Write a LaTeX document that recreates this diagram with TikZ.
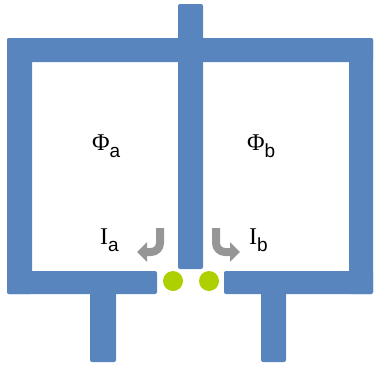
\documentclass[tikz,border=0pt]{standalone}
\usepackage{fontspec}
\usetikzlibrary{arrows.meta}
\newfontfamily\serifrm{Liberation Serif}
\newfontfamily\sansrm{Liberation Sans}
\definecolor{wallblue}{RGB}{88,133,190}
\definecolor{gapgreen}{RGB}{172,208,0}
\definecolor{flowgray}{RGB}{150,150,150}
\newcommand{\sublabel}[2]{{\serifrm #1}\raisebox{-7pt}{\sansrm\fontsize{19}{19}\selectfont #2}}

\begin{document}
\begin{tikzpicture}[x=1pt, y=-1pt,
    wall/.style={fill=wallblue, rounded corners=2pt},
    gap/.style={fill=gapgreen},
    flow/.style={draw=flowgray, line width=8pt, rounded corners=9pt,
      -{Triangle[length=10pt, width=19pt]}},
    lbl/.style={anchor=base west, inner sep=0pt, font=\serifrm\fontsize{24}{24}\selectfont}
  ]
  \useasboundingbox (0,0) rectangle (374,364);
  % walls of the two cells
  \fill[wall] (7,38) rectangle (373,62);
  \fill[wall] (7,38) rectangle (32,294);
  \fill[wall] (349,38) rectangle (373,294);
  \fill[wall] (178,4) rectangle (203,269);
  \fill[wall] (7,271) rectangle (157,294);
  \fill[wall] (224,271) rectangle (373,294);
  \fill[wall] (90,285) rectangle (116,362);
  \fill[wall] (261,285) rectangle (286,362);
  % junctions
  \fill[gap] (173,281) circle (10pt);
  \fill[gap] (209,281) circle (10pt);
  % currents
  \draw[flow] (160,228) -- (160,252) -- (137,252);
  \draw[flow] (216,228) -- (216,252) -- (240,252);
  % labels
  \node[lbl] (phia) at (92,150) {\sublabel{Φ}{a}};
  \node[lbl] (phib) at (247,150) {\sublabel{Φ}{b}};
  \node[lbl] (ia) at (100,244) {\sublabel{I}{a}};
  \node[lbl] (ib) at (249,244) {\sublabel{I}{b}};
\end{tikzpicture}
\end{document}
